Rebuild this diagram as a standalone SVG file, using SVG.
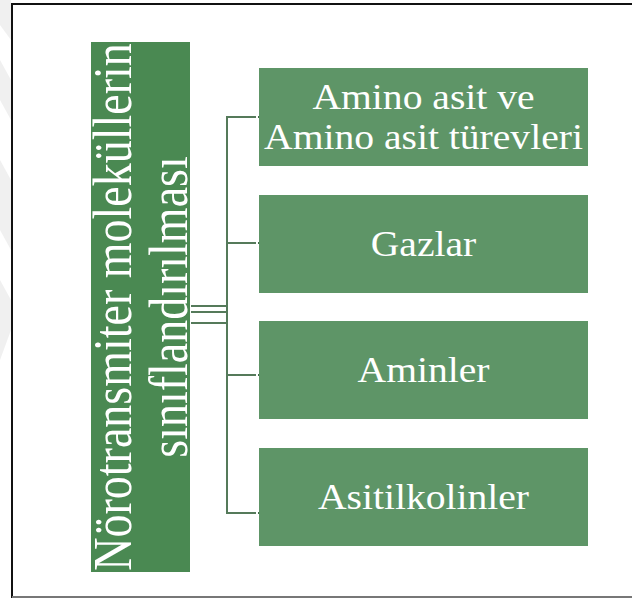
<svg xmlns="http://www.w3.org/2000/svg" width="632" height="598" viewBox="0 0 632 598">
<style>
.lbl{font-family:"Liberation Serif","Times New Roman",serif;fill:#ffffff;text-anchor:middle}
.h{font-size:36px}
.v{font-size:46px}
.conn{stroke:#557a5a;stroke-width:2;fill:none}
.tick{stroke:#3f6a45;stroke-width:2;fill:none}
.box{fill:#5e9567}
</style>
<rect x="0" y="0" width="632" height="598" fill="#ffffff"/>
<g id="watermark" fill="#f0f0f0">
<polygon points="0,0 11,0 11,40 0,25"/>
<polygon points="0,60 11,80 11,120 0,100"/>
<polygon points="0,160 11,180 11,250 0,230"/>
<polygon points="0,280 11,300 11,330 0,360"/>
</g>
<g id="frame">
<line x1="12" y1="4" x2="632" y2="4" stroke="#111" stroke-width="2"/>
<line x1="12" y1="3" x2="12" y2="598" stroke="#111" stroke-width="2"/>
<line x1="12" y1="597" x2="632" y2="597" stroke="#777" stroke-width="2"/>
</g>
<g id="connectors">
<line class="conn" x1="191" y1="306" x2="226" y2="306"/>
<line class="conn" x1="191" y1="312" x2="226" y2="312"/>
<line class="conn" x1="191" y1="323" x2="226" y2="323"/>
<line class="conn" x1="227" y1="116" x2="227" y2="514"/>
<line class="conn" x1="226" y1="117" x2="256" y2="117"/>
<line class="conn" x1="226" y1="243" x2="256" y2="243"/>
<line class="conn" x1="226" y1="375" x2="256" y2="375"/>
<line class="conn" x1="226" y1="513" x2="256" y2="513"/>
<line class="tick" x1="258" y1="117" x2="263" y2="117"/>
<line class="tick" x1="258" y1="243" x2="263" y2="243"/>
<line class="tick" x1="258" y1="375" x2="263" y2="375"/>
<line class="tick" x1="258" y1="513" x2="263" y2="513"/>
</g>
<g id="root">
<rect x="91" y="42" width="99" height="530" fill="#4a8952"/>
<g transform="translate(0,307) rotate(-90) scale(1,1.2)">
<text class="lbl v" x="0" y="109">Nörotransmiter moleküllerin</text>
<text class="lbl v" x="0" y="155.5">sınıflandırılması</text>
</g>
</g>
<g id="n1">
<rect class="box" x="259" y="68" width="329" height="98"/>
<text class="lbl h" transform="translate(423.5,109) scale(1.1,1)" x="0" y="0">Amino asit ve</text>
<text class="lbl h" transform="translate(423.5,149) scale(1.1,1)" x="0" y="0">Amino asit türevleri</text>
</g>
<g id="n2">
<rect class="box" x="259" y="195" width="329" height="98"/>
<text class="lbl h" transform="translate(423.5,256) scale(1.1,1)" x="0" y="0">Gazlar</text>
</g>
<g id="n3">
<rect class="box" x="259" y="321" width="329" height="98"/>
<text class="lbl h" transform="translate(423.5,382) scale(1.1,1)" x="0" y="0">Aminler</text>
</g>
<g id="n4">
<rect class="box" x="259" y="448" width="329" height="98"/>
<text class="lbl h" transform="translate(423.5,509) scale(1.1,1)" x="0" y="0">Asitilkolinler</text>
</g>
</svg>
